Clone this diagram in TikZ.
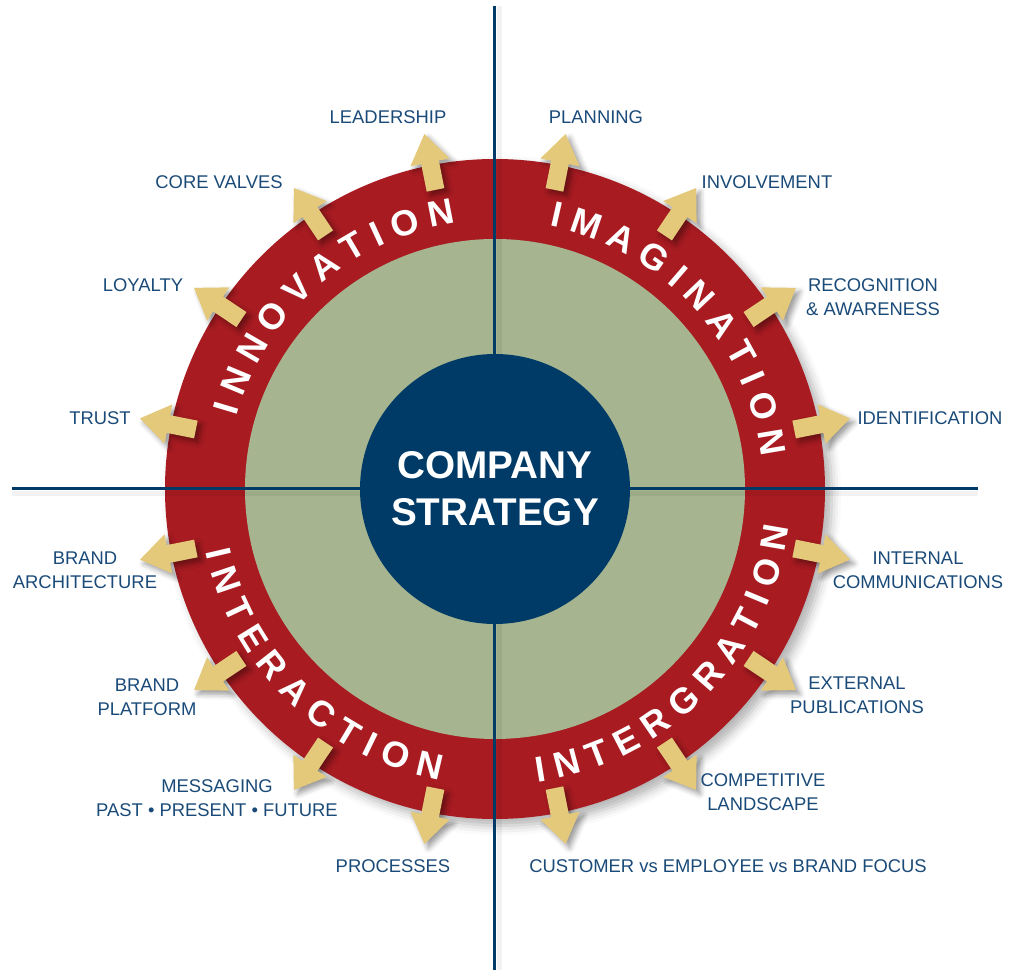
\documentclass[tikz,border=0pt]{standalone}
\usepackage{fontspec}
\setmainfont{Liberation Sans}
\usetikzlibrary{shadows.blur}

\definecolor{rimred}{RGB}{168,27,33}
\definecolor{sage}{RGB}{166,180,144}
\definecolor{navy}{RGB}{0,59,104}
\definecolor{inkblue}{RGB}{26,74,120}
\definecolor{wheat}{RGB}{229,201,122}

\begin{document}
\begin{tikzpicture}[x=0.75pt,y=0.75pt,disc/.style={circle,inner sep=0pt},axis/.style={draw=navy,line width=2.25pt},axisshade/.style={draw=black,line width=4pt,opacity=0.05},pointer/.style={fill=wheat,blur shadow={shadow xshift=3pt,shadow yshift=-3pt,shadow blur radius=4pt,shadow opacity=40}},rimtext/.style={text=white,inner sep=0pt,font=\fontsize{27}{27}\selectfont\bfseries},topic/.style={text=inkblue,align=center,inner sep=0pt,font=\fontsize{13.8}{18}\selectfont}]
\useasboundingbox (-495,-484) rectangle (523,489);
\coordinate (top) at (0,483);
\coordinate (bottom) at (0,-481);
\coordinate (left) at (-483,0);
\coordinate (right) at (483,0);
% rings
\node[disc,fill=rimred,minimum size=495pt,blur shadow={shadow xshift=5pt,shadow yshift=-5pt,shadow blur radius=7pt,shadow opacity=30}] (rim) at (0,0) {};
\node[disc,fill=sage,minimum size=375pt] (field) at (0,0) {};
% cross
\draw[axisshade] ([xshift=3.5pt]top) -- ([xshift=3.5pt]bottom);
\draw[axisshade] ([yshift=-3.5pt]left) -- ([yshift=-3.5pt]right);
\draw[axis] (top) -- (bottom);
\draw[axis] (left) -- (right);
\node[disc,fill=navy,minimum size=202.5pt,text=white,align=center,font=\fontsize{29}{35}\selectfont\bfseries] (core) at (0,0) {COMPANY\\STRATEGY};
% arrows round the rim
\foreach \a in {11.25,33.75,...,348.75}
  \path[pointer] ([shift={(\a:305)}]\a+90:9) -- ([shift={(\a:333)}]\a+90:9) -- ([shift={(\a:333)}]\a+90:20) -- (\a:362) -- ([shift={(\a:333)}]\a-90:20) -- ([shift={(\a:333)}]\a-90:9) -- ([shift={(\a:305)}]\a-90:9) -- cycle;
% words on the rim
\foreach \c/\a [count=\i] in {I/163.3,N/157.4,N/149.9,O/142.3,V/134.8,A/127.5,T/120.4,I/114.8,O/108.7,N/101.0}
  \node[rimtext,rotate=\a-90] (inno\i) at (\a:281) {\c};
\foreach \c/\a [count=\i] in {I/77.3,M/71.0,A/63.1,G/55.5,I/49.3,N/43.4,A/35.9,T/28.8,I/23.3,O/17.1,N/9.5}
  \node[rimtext,rotate=\a-90] (imag\i) at (\a:281) {\c};
\foreach \c/\a [count=\i] in {I/193.2,N/198.7,T/205.2,E/211.6,R/218.4,A/225.4,C/232.3,T/238.9,I/244.0,O/249.6,N/256.8}
  \node[rimtext,rotate=\a+90] (inter\i) at (\a:284) {\c};
\foreach \c/\a [count=\i] in {I/279.2,N/284.7,T/291.2,E/297.6,R/304.4,G/311.6,R/318.8,A/325.7,T/332.3,I/337.4,O/343.0,N/350.2}
  \node[rimtext,rotate=\a+90] (integ\i) at (\a:284) {\c};
% labels
\node[topic] (leadership) at (-107,372) {LEADERSHIP};
\node[topic] (planning) at (101,372) {PLANNING};
\node[topic] (corevalves) at (-276,307) {CORE VALVES};
\node[topic] (involvement) at (272,307) {INVOLVEMENT};
\node[topic] (loyalty) at (-352,204) {LOYALTY};
\node[topic] (recognition) at (378,192) {RECOGNITION\\\& AWARENESS};
\node[topic] (trust) at (-395,71) {TRUST};
\node[topic] (identification) at (435,71) {IDENTIFICATION};
\node[topic] (architecture) at (-410,-81) {BRAND\\ARCHITECTURE};
\node[topic] (internal) at (423,-81) {INTERNAL\\COMMUNICATIONS};
\node[topic] (platform) at (-348,-208) {BRAND\\PLATFORM};
\node[topic] (external) at (362,-206) {EXTERNAL\\PUBLICATIONS};
\node[topic] (messaging) at (-278,-309) {MESSAGING\\PAST • PRESENT • FUTURE};
\node[topic] (competitive) at (268,-303) {COMPETITIVE\\LANDSCAPE};
\node[topic] (processes) at (-102,-377) {PROCESSES};
\node[topic] (focus) at (233,-377) {CUSTOMER vs EMPLOYEE vs BRAND FOCUS};
\end{tikzpicture}
\end{document}
